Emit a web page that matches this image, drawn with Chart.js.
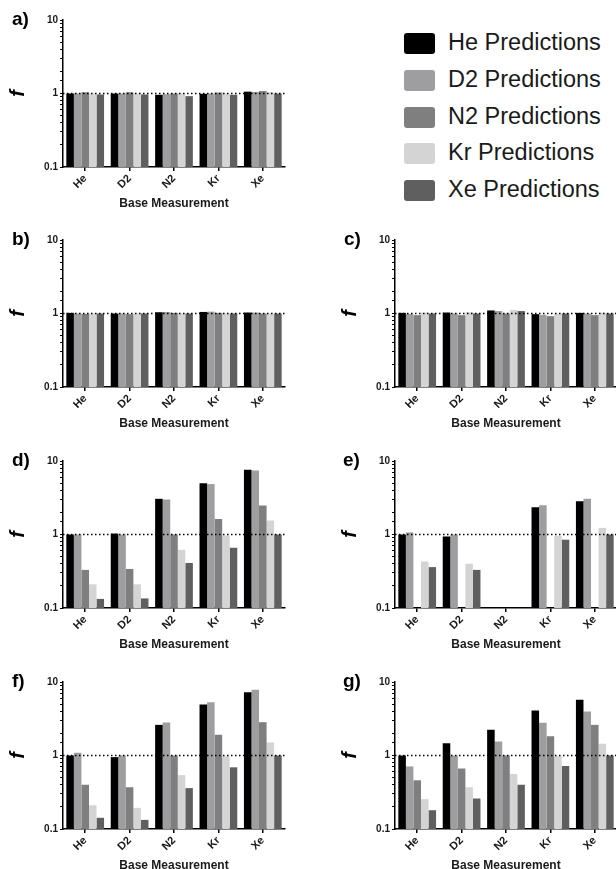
<!DOCTYPE html>
<html><head><meta charset="utf-8">
<script src="https://cdn.jsdelivr.net/npm/chart.js@4.4.1/dist/chart.umd.min.js"></script>
<style>
html,body{margin:0;padding:0;background:#fff;}
body{width:616px;height:869px;overflow:hidden;position:relative;font-family:'Liberation Sans',Arial,sans-serif;}
canvas{position:absolute;}
.lbl{position:absolute;font-weight:bold;font-size:19px;line-height:18px;color:#000;}
.leg{position:absolute;left:404px;width:31px;height:21px;border-radius:3px;}
.legt{position:absolute;left:448px;font-size:23.5px;line-height:23px;color:#1a1a1a;white-space:nowrap;}
</style></head><body>
<canvas id="pa" width="300" height="201"></canvas>
<canvas id="pb" width="300" height="201"></canvas>
<canvas id="pc" width="300" height="201"></canvas>
<canvas id="pd" width="300" height="201"></canvas>
<canvas id="pe" width="300" height="201"></canvas>
<canvas id="pf" width="300" height="201"></canvas>
<canvas id="pg" width="300" height="201"></canvas>
<div id="legend"></div>
<div id="letters"></div>
<script>
const categories = ['He', 'D2', 'N2', 'Kr', 'Xe'];
const seriesNames = ['He Predictions', 'D2 Predictions', 'N2 Predictions', 'Kr Predictions', 'Xe Predictions'];
const seriesColors = ['#000000', '#9e9ea1', '#7f7f7f', '#d4d4d4', '#5f5f5f'];
const yTickLabels = [0.1, 1, 10];
const refValue = 1;
const panelLetters = ['a)', 'b)', 'c)', 'd)', 'e)', 'f)', 'g)'];

// panel a
const aHe = [1.00, 1.00, 0.96, 0.99, 1.06];
const aD2 = [1.00, 1.00, 0.98, 1.00, 1.05];
const aN2 = [1.04, 1.04, 1.00, 1.03, 1.08];
const aKr = [1.00, 1.00, 1.00, 1.00, 1.04];
const aXe = [0.97, 0.97, 0.92, 0.96, 1.00];
// panel b
const bHe = [1.02, 1.00, 1.04, 1.05, 1.03];
const bD2 = [1.00, 1.00, 1.05, 1.06, 1.03];
const bN2 = [0.99, 0.98, 1.02, 1.02, 1.00];
const bKr = [1.00, 1.00, 1.00, 1.00, 1.00];
const bXe = [1.00, 1.00, 1.00, 1.00, 1.00];
// panel c
const cHe = [1.02, 1.03, 1.10, 0.98, 1.02];
const cD2 = [0.99, 1.00, 1.08, 0.96, 1.00];
const cN2 = [0.95, 0.95, 1.00, 0.92, 0.95];
const cKr = [1.03, 1.04, 1.12, 1.00, 1.03];
const cXe = [1.00, 1.00, 1.08, 1.00, 1.00];
// panel d
const dHe = [1.00, 1.03, 3.06, 4.99, 7.6];
const dD2 = [1.00, 1.00, 3.00, 4.85, 7.4];
const dN2 = [0.33, 0.34, 1.00, 1.63, 2.48];
const dKr = [0.21, 0.21, 0.62, 0.97, 1.55];
const dXe = [0.133, 0.135, 0.41, 0.66, 1.00];
// panel e
const eHe = [1.00, 0.94, null, 2.35, 2.84];
const eD2 = [1.07, 1.00, null, 2.50, 3.06];
const eN2 = [null, null, null, null, null];
const eKr = [0.43, 0.40, null, 0.96, 1.23];
const eXe = [0.36, 0.33, null, 0.85, 1.00];
// panel f
const fHe = [1.00, 0.95, 2.61, 4.94, 7.26];
const fD2 = [1.09, 1.00, 2.81, 5.30, 7.83];
const fN2 = [0.40, 0.37, 1.00, 1.91, 2.84];
const fKr = [0.21, 0.194, 0.54, 0.98, 1.50];
const fXe = [0.142, 0.133, 0.36, 0.69, 1.00];
// panel g
const gHe = [1.00, 1.47, 2.24, 4.10, 5.73];
const gD2 = [0.71, 1.00, 1.55, 2.79, 3.97];
const gN2 = [0.46, 0.665, 1.00, 1.83, 2.61];
const gKr = [0.255, 0.37, 0.56, 0.98, 1.44];
const gXe = [0.18, 0.26, 0.40, 0.72, 1.00];

const FONT = "'Liberation Sans', Arial, sans-serif";
Chart.defaults.font.family = FONT;

const refLine = {
  id: 'refLine',
  afterDatasetsDraw(chart) {
    const y = chart.scales.y.getPixelForValue(refValue);
    const { left, right } = chart.chartArea;
    const ctx = chart.ctx;
    ctx.save();
    ctx.strokeStyle = '#000';
    ctx.lineWidth = 1.5;
    ctx.setLineDash([1.5, 2.5]);
    ctx.beginPath();
    ctx.moveTo(left, y);
    ctx.lineTo(right, y);
    ctx.stroke();
    ctx.restore();
  }
};

function makePanel(id, series, left, plotTop) {
  const canvas = document.getElementById(id);
  canvas.style.left = left + 'px';
  canvas.style.top = (plotTop - 10) + 'px';
  new Chart(canvas, {
    type: 'bar',
    data: {
      labels: categories,
      datasets: series.map((d, i) => ({
        label: seriesNames[i],
        data: d,
        backgroundColor: seriesColors[i],
        borderWidth: 0,
        categoryPercentage: 0.85,
        barPercentage: 1.0
      }))
    },
    options: {
      responsive: false,
      animation: false,
      layout: { padding: { top: 10, right: 15, left: 0, bottom: 0 } },
      plugins: { legend: { display: false }, tooltip: { enabled: false } },
      scales: {
        x: {
          grid: { offset: false, drawOnChartArea: false, tickLength: 4, color: '#000', lineWidth: 1.5 },
          border: { color: '#000', width: 1.5 },
          ticks: { minRotation: 45, maxRotation: 45, autoSkip: false, padding: 1,
                   font: { size: 11, weight: 'bold' }, color: '#1a1a1a' },
          title: { display: true, text: 'Base Measurement', padding: 0,
                   font: { size: 12, weight: 'bold' }, color: '#1a1a1a' },
          afterFit: s => { s.height = 44; }
        },
        y: {
          type: 'logarithmic', min: 0.1, max: 10,
          grid: { drawOnChartArea: false, tickLength: 3, color: '#000', lineWidth: 1 },
          border: { color: '#000', width: 1.5 },
          ticks: {
            autoSkip: false, padding: 2,
            font: { size: 10, weight: 'bold' }, color: '#1a1a1a',
            callback: v => {
              const t = yTickLabels.find(t => Math.abs(t - v) / t < 1e-6);
              return t !== undefined ? String(t) : '';
            }
          },
          title: { display: true, text: 'f', padding: { top: 6, bottom: 0 },
                   font: { size: 20, weight: 'bold', style: 'italic' }, color: '#000' },
          afterFit: s => { s.width = 63; }
        }
      }
    },
    plugins: [refLine]
  });
}

const tops = [20, 240, 461, 682];
const leftX = 0, rightX = 332;
makePanel('pa', [aHe, aD2, aN2, aKr, aXe], leftX, tops[0]);
makePanel('pb', [bHe, bD2, bN2, bKr, bXe], leftX, tops[1]);
makePanel('pc', [cHe, cD2, cN2, cKr, cXe], rightX, tops[1]);
makePanel('pd', [dHe, dD2, dN2, dKr, dXe], leftX, tops[2]);
makePanel('pe', [eHe, eD2, eN2, eKr, eXe], rightX, tops[2]);
makePanel('pf', [fHe, fD2, fN2, fKr, fXe], leftX, tops[3]);
makePanel('pg', [gHe, gD2, gN2, gKr, gXe], rightX, tops[3]);

// panel letters
const letterPos = [[12, 0], [12, 1], [344, 1], [12, 2], [343, 2], [12, 3], [343, 3]];
const letters = document.getElementById('letters');
panelLetters.forEach((t, i) => {
  const d = document.createElement('div');
  d.className = 'lbl';
  d.textContent = t;
  d.style.left = letterPos[i][0] + 'px';
  d.style.top = (tops[letterPos[i][1]] - 10) + 'px';
  letters.appendChild(d);
});

// legend
const legend = document.getElementById('legend');
const legRows = [43, 80, 117, 153, 190];
seriesNames.forEach((n, i) => {
  const sq = document.createElement('div');
  sq.className = 'leg';
  sq.style.background = seriesColors[i];
  sq.style.top = (legRows[i] - 10.5) + 'px';
  legend.appendChild(sq);
  const tx = document.createElement('div');
  tx.className = 'legt';
  tx.textContent = n;
  tx.style.top = (legRows[i] - 12) + 'px';
  legend.appendChild(tx);
});
</script>
</body></html>
